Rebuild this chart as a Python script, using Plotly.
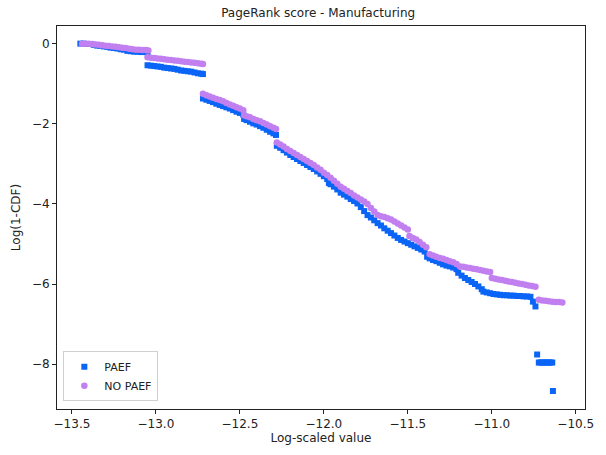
import plotly.graph_objects as go

# PAEF series (blue squares)
paef_x = [
    -13.45, -13.43, -13.41, -13.39, -13.37, -13.35, -13.33, -13.31, -13.29, -13.27,
    -13.25, -13.23, -13.21, -13.19, -13.17, -13.15, -13.13, -13.11, -13.09, -13.07, -13.05,
    -13.05, -13.03, -13.01, -12.99, -12.97, -12.95, -12.93, -12.91, -12.89, -12.87,
    -12.85, -12.83, -12.81, -12.79, -12.77, -12.75, -12.73, -12.72,
    -12.72, -12.70, -12.68, -12.66, -12.64, -12.62, -12.60, -12.58, -12.56, -12.54,
    -12.52, -12.50, -12.48,
    -12.475, -12.46, -12.44, -12.42, -12.40, -12.38, -12.36, -12.34, -12.32, -12.30, -12.285,
    -12.28, -12.26, -12.24, -12.22, -12.20, -12.18, -12.16, -12.14, -12.12, -12.10,
    -12.08, -12.06, -12.04, -12.02, -12.00, -11.98, -11.97, -11.96, -11.94, -11.92,
    -11.90, -11.88, -11.86, -11.84, -11.82, -11.80, -11.78, -11.76, -11.74, -11.72,
    -11.70, -11.68, -11.66, -11.64, -11.62, -11.60, -11.58, -11.56, -11.54, -11.52,
    -11.50, -11.48, -11.46, -11.44, -11.42, -11.40, -11.385, -11.37, -11.35, -11.33,
    -11.31, -11.29, -11.27, -11.25, -11.23, -11.21, -11.20, -11.18, -11.16, -11.14,
    -11.12, -11.10, -11.08, -11.06, -11.05, -11.03, -11.01, -10.99, -10.97, -10.95,
    -10.93, -10.91, -10.89, -10.87, -10.85, -10.83, -10.81, -10.79, -10.77, -10.755, -10.74,
    -10.73, -10.72, -10.71, -10.70, -10.69, -10.68, -10.67, -10.66, -10.65, -10.64, -10.636,
]
paef_y = [
    0.0, 0.0, -0.01, -0.01, -0.03, -0.05, -0.05, -0.07, -0.08, -0.10,
    -0.11, -0.12, -0.14, -0.15, -0.18, -0.19, -0.20, -0.20, -0.21, -0.21, -0.22,
    -0.54, -0.55, -0.56, -0.57, -0.58, -0.60, -0.61, -0.62, -0.63, -0.65,
    -0.67, -0.68, -0.69, -0.70, -0.72, -0.74, -0.75, -0.76,
    -1.37, -1.40, -1.43, -1.46, -1.50, -1.53, -1.56, -1.59, -1.62, -1.66,
    -1.70, -1.73, -1.77,
    -1.88, -1.91, -1.95, -1.99, -2.02, -2.06, -2.10, -2.15, -2.20, -2.24, -2.28,
    -2.55, -2.60, -2.66, -2.72, -2.78, -2.83, -2.88, -2.93, -2.98, -3.03,
    -3.08, -3.13, -3.19, -3.25, -3.31, -3.38, -3.48, -3.51, -3.57, -3.64,
    -3.72, -3.77, -3.82, -3.88, -3.93, -3.99, -4.08, -4.18, -4.28, -4.34,
    -4.41, -4.48, -4.54, -4.61, -4.67, -4.73, -4.79, -4.85, -4.90, -4.94,
    -4.98, -5.02, -5.06, -5.10, -5.14, -5.19, -5.32, -5.36, -5.40, -5.43,
    -5.47, -5.51, -5.54, -5.56, -5.59, -5.63, -5.72, -5.79, -5.85, -5.90,
    -5.95, -6.00, -6.06, -6.13, -6.19, -6.21, -6.23, -6.25, -6.26, -6.27,
    -6.28, -6.28, -6.29, -6.29, -6.30, -6.30, -6.31, -6.31, -6.32, -6.44, -6.56,
    -7.76, -7.96, -7.96, -7.96, -7.96, -7.96, -7.96, -7.96, -7.96, -7.96, -8.67,
]

# NO PAEF series (purple circles)
nopaef_x = [
    -13.44, -13.42, -13.40, -13.38, -13.36, -13.34, -13.32, -13.30, -13.28, -13.26,
    -13.24, -13.22, -13.20, -13.18, -13.16, -13.14, -13.12, -13.10, -13.08, -13.06, -13.045,
    -13.05, -13.03, -13.01, -12.99, -12.97, -12.95, -12.93, -12.91, -12.89, -12.87,
    -12.85, -12.83, -12.81, -12.79, -12.77, -12.75, -12.73, -12.72,
    -12.72, -12.70, -12.68, -12.66, -12.64, -12.62, -12.60, -12.58, -12.56, -12.54,
    -12.52, -12.50, -12.48,
    -12.475, -12.46, -12.44, -12.42, -12.40, -12.38, -12.36, -12.34, -12.32, -12.30, -12.285,
    -12.28, -12.26, -12.24, -12.22, -12.20, -12.18, -12.16, -12.14, -12.12, -12.10,
    -12.08, -12.06, -12.04, -12.02, -12.00, -11.98, -11.96, -11.94, -11.92, -11.90,
    -11.88, -11.86, -11.84, -11.82, -11.80, -11.78, -11.76, -11.74, -11.72, -11.70,
    -11.68, -11.66, -11.64, -11.62, -11.60, -11.58, -11.56, -11.54, -11.52, -11.50,
    -11.49, -11.47, -11.45, -11.43, -11.41, -11.39, -11.37, -11.35, -11.33, -11.31,
    -11.29, -11.27, -11.25, -11.23, -11.21, -11.19, -11.17, -11.15, -11.13, -11.11,
    -11.09, -11.07, -11.05, -11.03, -11.01, -11.00, -10.98, -10.96, -10.94, -10.92,
    -10.90, -10.88, -10.86, -10.84, -10.82, -10.80, -10.78, -10.76, -10.74, -10.72,
    -10.70, -10.68, -10.66, -10.64, -10.62, -10.60, -10.58,
]
nopaef_y = [
    0.0, 0.0, 0.0, -0.01, -0.02, -0.03, -0.04, -0.05, -0.06, -0.07,
    -0.08, -0.09, -0.10, -0.11, -0.13, -0.14, -0.15, -0.15, -0.16, -0.16, -0.17,
    -0.34, -0.35, -0.36, -0.37, -0.38, -0.39, -0.40, -0.41, -0.42, -0.43,
    -0.44, -0.45, -0.46, -0.47, -0.48, -0.49, -0.50, -0.51,
    -1.25, -1.29, -1.32, -1.35, -1.38, -1.41, -1.44, -1.48, -1.52, -1.55,
    -1.59, -1.62, -1.66,
    -1.79, -1.81, -1.84, -1.88, -1.91, -1.94, -1.98, -2.02, -2.06, -2.10, -2.13,
    -2.47, -2.52, -2.57, -2.63, -2.68, -2.73, -2.78, -2.83, -2.88, -2.93,
    -2.98, -3.03, -3.09, -3.15, -3.22, -3.28, -3.35, -3.42, -3.50, -3.57,
    -3.62, -3.68, -3.73, -3.79, -3.84, -3.89, -3.94, -4.00, -4.10, -4.19,
    -4.28, -4.31, -4.33, -4.36, -4.39, -4.44, -4.49, -4.54, -4.59, -4.64,
    -4.80, -4.85, -4.89, -4.95, -5.02, -5.08, -5.26, -5.29, -5.32, -5.35,
    -5.37, -5.40, -5.43, -5.46, -5.50, -5.56, -5.57, -5.59, -5.60, -5.62,
    -5.63, -5.65, -5.67, -5.69, -5.70, -5.85, -5.87, -5.89, -5.90, -5.92,
    -5.94, -5.95, -5.97, -5.99, -6.00, -6.02, -6.04, -6.05, -6.07, -6.39,
    -6.41, -6.42, -6.43, -6.44, -6.45, -6.45, -6.46,
]

x_ticks = [-13.5, -13.0, -12.5, -12.0, -11.5, -11.0, -10.5]
y_ticks = [0, -2, -4, -6, -8]

FONT = "DejaVu Sans"

fig = go.Figure()
fig.add_trace(go.Scatter(
    x=paef_x, y=paef_y, mode="markers", name="PAEF",
    marker=dict(symbol="square", size=6, color="#0a64f5", line=dict(width=0)),
))
fig.add_trace(go.Scatter(
    x=nopaef_x, y=nopaef_y, mode="markers", name="NO PAEF",
    marker=dict(symbol="circle", size=6.5, color="#c17ff0", line=dict(width=0)),
))

axis_common = dict(
    showline=True, linecolor="#222", linewidth=1, mirror=True,
    ticks="outside", ticklen=4, tickcolor="#222", tickwidth=1,
    showgrid=False, zeroline=False,
    tickfont=dict(family=FONT, size=12, color="#222"),
)

fig.update_layout(
    width=606, height=455,
    margin=dict(l=57, r=17, t=26, b=38),
    paper_bgcolor="white", plot_bgcolor="white",
    title=dict(text="PageRank score - Manufacturing", x=0.525, xanchor="center",
               y=0.972, yanchor="middle",
               font=dict(family=FONT, size=12, color="#222")),
    xaxis=dict(range=[-13.589, -10.445], tickvals=x_ticks, tickformat=".1f",
               title=dict(text="Log-scaled value", standoff=3,
                          font=dict(family=FONT, size=12, color="#222")),
               **axis_common),
    yaxis=dict(range=[-9.12, 0.44], tickvals=y_ticks, tickformat="d",
               title=dict(text="Log(1-CDF)", standoff=8,
                          font=dict(family=FONT, size=12, color="#222")),
               **axis_common),
    legend=dict(x=0.012, y=0.02, xanchor="left", yanchor="bottom",
                bgcolor="rgba(255,255,255,0.8)", bordercolor="#d0d0d0", borderwidth=1,
                font=dict(family=FONT, size=11, color="#222"),
                itemwidth=30, tracegroupgap=0),
    showlegend=True,
)

fig.write_html("out.html")
